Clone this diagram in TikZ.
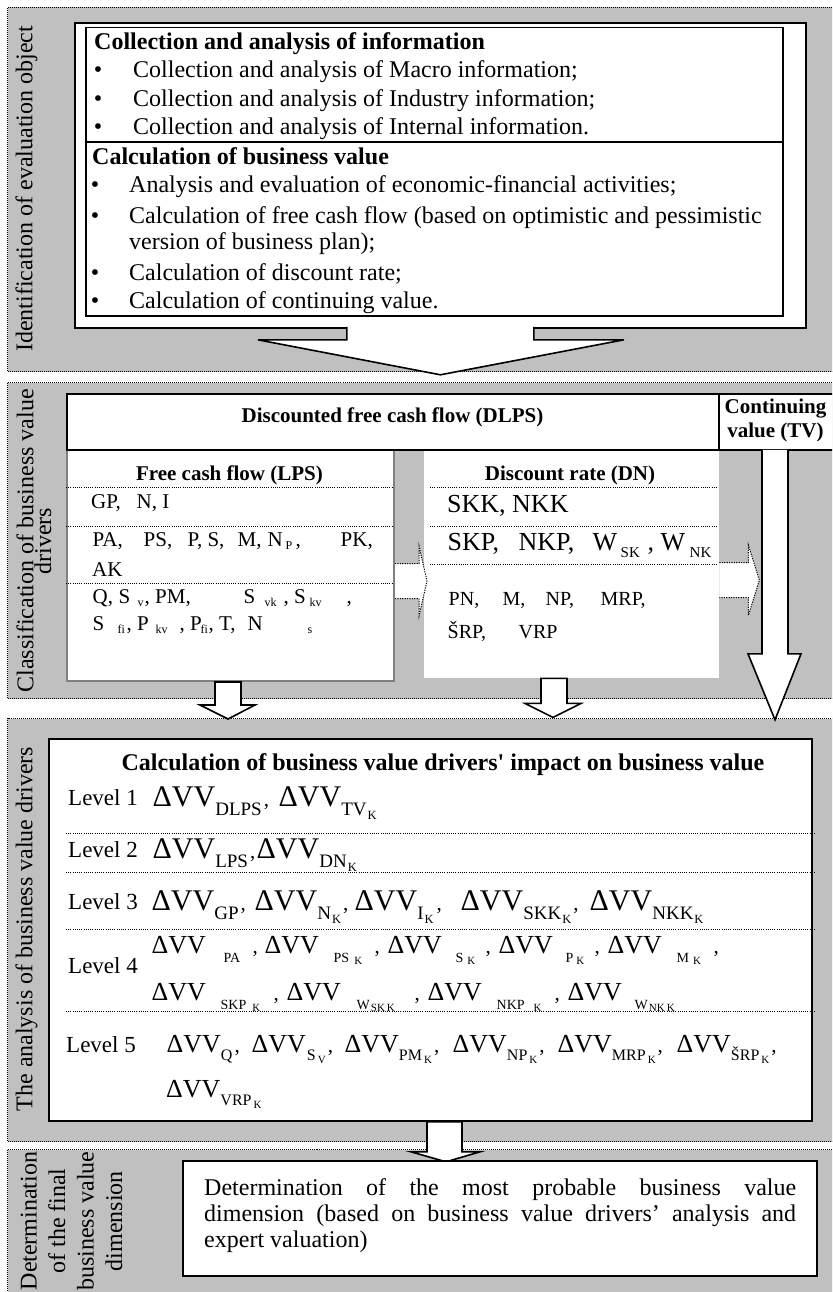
\documentclass[tikz,border=0pt]{standalone}
\usepackage{fontspec}
\setmainfont{Liberation Serif}
% same face without the TeX quote mapping, for a straight apostrophe
\newfontfamily\rawserif{Liberation Serif}
\usetikzlibrary{calc}

\definecolor{panelgray}{RGB}{192,192,192}
\definecolor{edgegray}{RGB}{128,128,128}

% one picture unit is one pixel; font sizes are given in the same unit
\newcommand\fs[1]{\fontsize{#1}{#1}\selectfont}
% put a piece of a line at a fixed offset from the line start
\newcommand\at[2]{\makebox[0pt][l]{\hspace{#1pt}#2}}

% levels 1-3
\newcommand\dvA{{\fs{30}ΔVV}}
\newcommand\subA[1]{\raisebox{-9pt}{\fs{19}#1}}
\newcommand\kA{\hspace{1pt}\raisebox{-4pt}{\fs{12.5}K}}
% level 4
\newcommand\dvB{{\fs{26}ΔVV}}
\newcommand\subB[1]{\raisebox{-9pt}{\fs{14}#1}}
\newcommand\kB{\raisebox{-2pt}{\fs{11}K}}
\newcommand\lowB[1]{\raisebox{-2pt}{\fs{11}#1}}
% level 5
\newcommand\dvC{{\fs{26}ΔVV}}
\newcommand\subC[1]{\raisebox{-8pt}{\fs{16}#1}}
\newcommand\kC[1]{\hspace{2pt}\raisebox{-3pt}{\fs{11}#1}}
% commas between the terms
\newcommand\cm{{\fs{21},}}
% small lowered indices in the driver lists
\newcommand\lo[1]{\raisebox{-3pt}{\fs{12}#1}}
\newcommand\loW[1]{\raisebox{-7pt}{\fs{15}#1}}

\begin{document}
\begin{tikzpicture}[x=1pt,y=-1pt,
  panel/.style={fill=panelgray, draw=black, line width=1pt, dash pattern=on 1pt off 1pt, inner sep=0pt, anchor=north west},
  box/.style={fill=white, draw=black, line width=1.8pt, inner sep=0pt, anchor=north west},
  lpsbox/.style={fill=white, draw=edgegray, line width=2pt, inner sep=0pt, anchor=north west},
  rowrule/.style={draw=black, line width=0.9pt, dash pattern=on 1pt off 1.2pt},
  fatarrow/.style={fill=white, draw=black, line width=1.6pt, line join=miter},
  dotarrow/.style={fill=white, draw=black, line width=1pt, dash pattern=on 1.2pt off 1.2pt},
  sidelabel/.style={rotate=90, font=\fontsize{24}{28.5}\selectfont, align=center, inner sep=0pt},
  txt/.style={anchor=base west, inner sep=0pt, font=\fs{24}},
  head/.style={anchor=base, inner sep=0pt, font=\bfseries\fs{21}},
  bul/.style={anchor=base, inner sep=0pt, font=\fs{24}},
  small/.style={anchor=base west, inner sep=0pt, font=\fs{21}},
  smaller/.style={anchor=base west, inner sep=0pt, font=\fs{20}},
  large/.style={anchor=base west, inner sep=0pt, font=\fs{26}},
  lvl/.style={anchor=base west, inner sep=0pt, font=\fs{23}},
  frm/.style={anchor=base west, inner sep=0pt},
]
\useasboundingbox (0,0) rectangle (832,1292);
\clip (0,0) rectangle (832,1292);
\fill[white] (0,0) rectangle (832,1292);

% ---------- the four bands ----------
\node[panel, minimum width=840pt, minimum height=364pt] (p1) at (7,7) {};
\node[panel, minimum width=840pt, minimum height=316pt] (p2) at (7,382) {};
\node[panel, minimum width=840pt, minimum height=423pt] (p3) at (7,718) {};
\node[panel, minimum width=840pt, minimum height=170pt] (p4) at (7,1149) {};

\node[sidelabel] (l1) at (26.5,189) {Identification of evaluation object};
\node[sidelabel] (l2a) at (25,541) {Classification of business value};
\node[sidelabel] (l2b) at (43,541) {drivers};
\node[sidelabel] (l3) at (26.5,929) {The analysis of business value drivers};
\node[sidelabel] (l4) at (71.5,1221) {Determination\\of the final\\business value\\dimension};

% ---------- band 1: identification ----------
\node[box, minimum width=731pt, minimum height=305pt] (outer) at (74,22) {};
\node[box, line width=1.5pt, minimum width=697pt, minimum height=288pt] (inner) at (85,27) {};
\draw[line width=1.5pt] ($(inner.north west)+(0,115)$) -- ($(inner.north east)+(0,115)$);

\node[txt, font=\bfseries\fs{24}] (h1) at (94,50) {Collection and analysis of information};
\node[bul] (b1) at (98,78) {•};
\node[bul] (b2) at (98,107) {•};
\node[bul] (b3) at (98,135) {•};
\node[txt] (i1) at (133,78) {Collection and analysis of Macro information;};
\node[txt] (i2) at (133,107) {Collection and analysis of Industry information;};
\node[txt] (i3) at (133,135) {Collection and analysis of Internal information.};

\node[txt, font=\bfseries\fs{24}] (h2) at (92,165) {Calculation of business value};
\node[bul] (c1) at (95,193) {•};
\node[bul] (c2) at (95,223) {•};
\node[bul] (c3) at (95,280) {•};
\node[bul] (c4) at (95,308) {•};
\node[txt] (j1) at (129,193) {Analysis and evaluation of economic-financial activities;};
\node[txt] (j2) at (129,223) {Calculation of free cash flow (based on optimistic and pessimistic};
\node[txt] (j2b) at (129,249) {version of business plan);};
\node[txt] (j3) at (129,280) {Calculation of discount rate;};
\node[txt] (j4) at (129,308) {Calculation of continuing value.};

\draw[fatarrow] ($(outer.south)+(-93.5,-2)$) -- ++(0,13) -- ++(-89,0)
  -- ($(outer.south)+(0,46)$) -- ($(outer.south)+(183.5,11)$) -- ++(-90,0) -- ++(0,-13);

% ---------- band 2: classification ----------
\node[lpsbox, minimum width=327pt, minimum height=231pt] (lps) at (66,449) {};
\node[fill=white, inner sep=0pt, anchor=north west, minimum width=295pt, minimum height=229pt] (dn) at (424,449) {};
\node[box, minimum width=781pt, minimum height=56pt] (hdr) at (66,393) {};
\draw[line width=1.8pt] ($(hdr.north west)+(653,0)$) -- ($(hdr.south west)+(653,0)$);

\node[head] (dlps) at (392.5,422) {Discounted free cash flow (DLPS)};
\node[head] (tv1) at (775.5,413) {Continuing};
\node[head] (tv2) at (775.5,437) {value (TV)};

\node[head] (lpst) at (229.5,480) {Free cash flow (LPS)};
\node[head] (dnt) at (570,480) {Discount rate (DN)};
\foreach \yy in {487,526,583} \draw[rowrule] (66,\yy) -- (393,\yy);
\foreach \yy in {487,526,564} \draw[rowrule] (430,\yy) -- (717,\yy);

\node[small] (f1) at (91,508) {GP,\ \ \ N,\ I};
\node[small] (f2) at (92,546) {\at{0}{PA,}\at{51}{PS,}\at{95}{P, S,}\at{145}{M,}\at{175}{N}\at{193}{\lo{P}}\at{203}{,}\at{248}{PK,}};
\node[small] (f3) at (92,576) {AK};
\node[small] (f4) at (92,603) {\at{0}{Q,}\at{26}{S}\at{45}{\lo{v}}\at{52}{, PM,}\at{151}{S}\at{172}{\lo{vk}}\at{191}{, S}\at{217}{\lo{kv}}\at{254}{,}};
\node[small] (f5) at (92,630) {\at{0}{S}\at{25}{\lo{fi}}\at{34}{, P}\at{63}{\lo{kv}}\at{87}{, P}\at{108}{\lo{fi}}\at{116}{, T,}\at{155}{N}\at{215}{\lo{s}}};

\node[large] (d1) at (447,512) {SKK, NKK};
\node[large] (d2) at (447,550) {\at{0}{SKP,}\at{71}{NKP,}\at{145}{W}\at{173}{\loW{SK}}\at{200}{, W}\at{242}{\loW{NK}}};
\node[smaller] (d3) at (448,605) {\at{0}{PN,}\at{54}{M,}\at{97}{NP,}\at{152}{MRP,}};
\node[smaller] (d4) at (447,638) {\at{0}{ŠRP,}\at{71}{VRP}};

% dotted hand-over arrows
\coordinate (ga) at ($(lps.east)+(0,15.5)$);
\draw[dotarrow] ($(ga)+(0,-17.5)$) -- ($(ga)+(24,-17.5)$) -- ($(ga)+(24,-35)$)
  -- ($(ga)+(32,0)$) -- ($(ga)+(24,35)$) -- ($(ga)+(24,17.5)$) -- ($(ga)+(0,17.5)$);
\coordinate (gb) at ($(dn.east)+(0,16.5)$);
\draw[dotarrow] ($(gb)+(0,-17.5)$) -- ($(gb)+(29,-17.5)$) -- ($(gb)+(29,-35)$)
  -- ($(gb)+(40,0)$) -- ($(gb)+(29,35)$) -- ($(gb)+(29,17.5)$) -- ($(gb)+(0,17.5)$);

% continuing value arrow
\draw[fatarrow] ($(hdr.south west)+(696,-1)$) -- ++(0,204) -- ++(-14,0)
  -- ($(hdr.south west)+(709,269)$) -- ($(hdr.south west)+(735,203)$) -- ++(-13,0) -- ++(0,-204);

% arrows into band 3
\draw[fatarrow] ($(lps.south west)+(149,0)$) -- ++(0,23) -- ++(-15,0) -- ++(28,14)
  -- ++(27,-14) -- ++(-14,0) -- ++(0,-23) -- cycle;
\draw[fatarrow] ($(dn.south west)+(117,0)$) -- ++(0,25) -- ++(-16,0) -- ++(28,14)
  -- ++(28,-14) -- ++(-14,0) -- ++(0,-25) -- cycle;

% ---------- band 3: analysis ----------
\node[box, minimum width=763pt, minimum height=382pt] (ana) at (48,738) {};
\node[anchor=base, inner sep=0pt, font=\rawserif\bfseries\fs{24}] (anat) at (443,770)
  {Calculation of business value drivers' impact on business value};
\foreach \yy in {833,872,929,1011} \draw[rowrule] (66,\yy) -- (815,\yy);

\node[lvl] (v1) at (68,805) {Level 1};
\node[lvl] (v2) at (68,857) {Level 2};
\node[lvl] (v3) at (68,909) {Level 3};
\node[lvl] (v4) at (68,973) {Level 4};
\node[lvl] (v5) at (66,1052) {Level 5};

\node[frm] (e1) at (152,806) {\at{0}{\dvA\subA{DLPS}\hspace{2pt}\cm}\at{126}{\dvA\subA{TV\kA}}};
\node[frm] (e2) at (152,858) {\at{0}{\dvA\subA{LPS}\hspace{2pt}\cm}\at{104}{\dvA\subA{DN\kA}}};
\node[frm] (e3) at (151,910) {\at{0}{\dvA\subA{GP}\hspace{2pt}\cm}\at{103}{\dvA\subA{N\kA}\hspace{2pt}\cm}\at{203}{\dvA\subA{I\kA}\hspace{3pt}\cm}\at{309}{\dvA\subA{SKK\kA}\hspace{2pt}\cm}\at{438}{\dvA\subA{NKK\kA}}};
\node[frm] (e4a) at (151,953) {\at{0}{\dvB}\at{72}{\subB{PA}}\at{101}{\cm}%
  \at{113}{\dvB}\at{182}{\subB{PS\hspace{5pt}\kB}}\at{223}{\cm}%
  \at{236}{\dvB}\at{304}{\subB{S\hspace{4pt}\kB}}\at{334}{\cm}%
  \at{347}{\dvB}\at{414}{\subB{P\hspace{3pt}\kB}}\at{443}{\cm}%
  \at{456}{\dvB}\at{525}{\subB{M\hspace{4pt}\kB}}\at{562}{\cm}};
\node[frm] (e4b) at (151,1000) {\at{0}{\dvB}\at{69}{\subB{SKP\hspace{6pt}\kB}}\at{122}{\cm}%
  \at{135}{\dvB}\at{205}{\subB{W\hspace{1pt}\lowB{SK\hspace{2pt}K}}}\at{263}{\cm}%
  \at{276}{\dvB}\at{345}{\subB{NKP\hspace{9pt}\kB}}\at{403}{\cm}%
  \at{416}{\dvB}\at{483}{\subB{W\hspace{1pt}\lowB{NK\hspace{2pt}K}}}};
\node[frm] (e5a) at (166,1052) {\at{0}{\dvC\subC{Q}\hspace{2pt}\cm}\at{85}{\dvC\hspace{1pt}\subC{S\kC{V}}\hspace{2pt}\cm}\at{178}{\dvC\subC{PM\kC{K}}\hspace{2pt}\cm}\at{286}{\dvC\subC{NP\kC{K}}\hspace{2pt}\cm}\at{391}{\dvC\subC{MRP\kC{K}}\hspace{2pt}\cm}\at{510}{\dvC\subC{ŠRP\kC{K}}\hspace{2pt}\cm}};
\node[frm] (e5b) at (166,1097) {\dvC\subC{VRP\kC{K}}};

\draw[fatarrow] ($(ana.south west)+(379,0)$) -- ++(0,30) -- ++(-16,0) -- ++(35,10)
  -- ++(34,-10) -- ++(-18,0) -- ++(0,-30) -- cycle;

% ---------- band 4: final value ----------
\node[box, minimum width=634pt, minimum height=115pt] (fin) at (182,1160) {};
\node[anchor=north west, inner sep=0pt, text width=592pt, align=justify,
      font=\fontsize{24}{26}\selectfont] (fint) at (204,1178)
  {\tolerance=10000 Determination of the most probable business value\linebreak dimension (based on business value drivers’ analysis and\linebreak expert valuation)};
\end{tikzpicture}
\end{document}
